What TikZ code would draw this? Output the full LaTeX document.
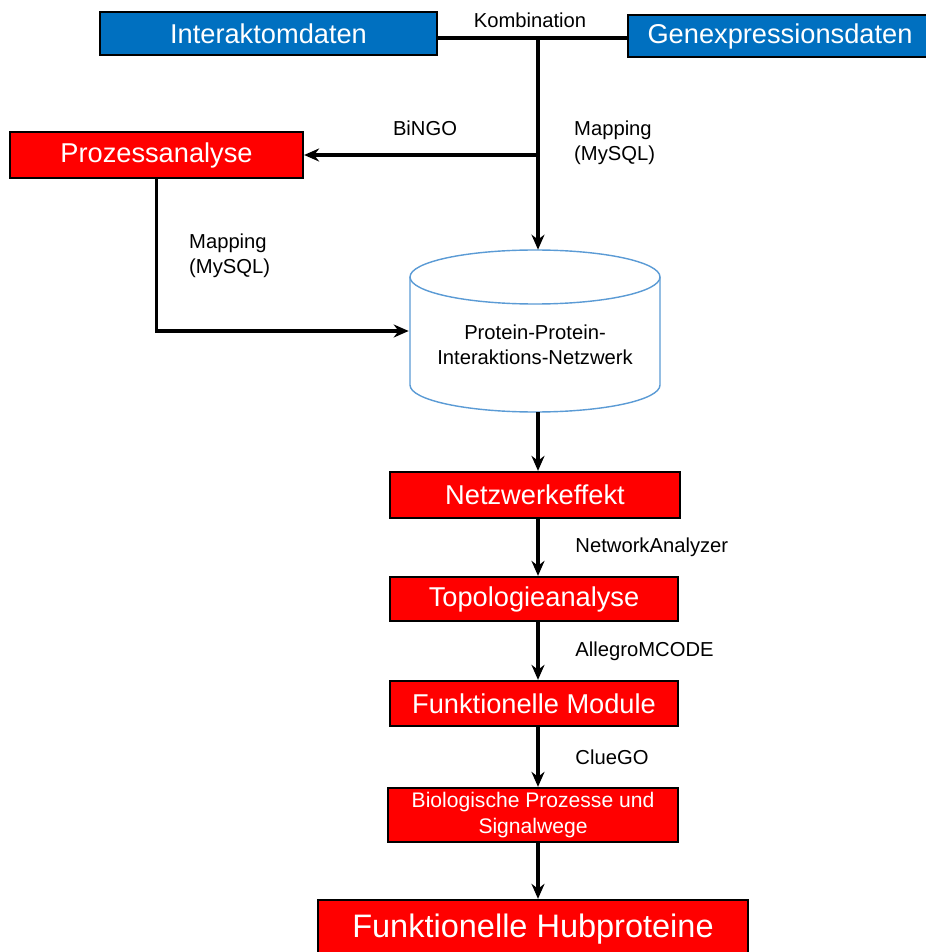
\documentclass[tikz,border=0pt]{standalone}
\usepackage{fontspec}
\setmainfont{Liberation Sans}
\usetikzlibrary{calc, arrows.meta, positioning}
\definecolor{boxblue}{RGB}{0,112,192}
\definecolor{boxred}{RGB}{255,0,0}
\definecolor{dbline}{RGB}{91,155,213}

\begin{document}
\begin{tikzpicture}[
    x=0.02cm, y=-0.02cm,
    data node/.style={rectangle, draw=black, line width=1.3pt, fill=boxblue, text=white, inner sep=0pt, font=\fontsize{15.5}{18}\selectfont},
    step node/.style={rectangle, draw=black, line width=1.3pt, fill=boxred, text=white, inner sep=0pt, minimum width=5.8cm, minimum height=0.9cm, font=\fontsize{15.5}{18}\selectfont},
    arrow/.style={-{Stealth[length=3mm, width=2.6mm]}, black, line width=2pt},
    link/.style={black, line width=2pt},
    label node/.style={font=\fontsize{11.5}{14}\selectfont, align=left}
]
\useasboundingbox (0,0) rectangle (925,952);

% Input data
\node[data node, minimum width=6.74cm, minimum height=0.86cm] (inter) at (268.5,33.5) {Interaktomdaten};
\node[data node, minimum width=6.08cm, minimum height=0.84cm] (genex) at (780,36) {Genexpressionsdaten};
\coordinate (comb) at (538,38);
\coordinate (branch) at (538,155);

% Process analysis
\node[step node, minimum width=5.86cm, minimum height=0.92cm] (proz) at (156.5,155) {Prozessanalyse};

% Network (cylinder)
\node[minimum width=5.04cm, minimum height=3.24cm, inner sep=0pt] (ppi) at (535,331) {};
\draw[dbline, line width=0.8pt, fill=white]
    (410,277) -- (410,385) arc[start angle=180, end angle=360, x radius=125, y radius=-27] -- (660,277);
\draw[dbline, line width=0.8pt, fill=white] (535,277) ellipse[x radius=125, y radius=-27];
\node[font=\fontsize{11.5}{14}\selectfont, align=center] at (535,345) {Protein-Protein-\\Interaktions-Netzwerk};

% Analysis steps
\node[step node, minimum width=5.8cm, minimum height=0.92cm] (netz) at (535,495) {Netzwerkeffekt};
\node[step node, minimum width=5.76cm, minimum height=0.88cm] (topo) at (534,599) {Topologieanalyse};
\node[step node, minimum width=5.76cm, minimum height=0.9cm] (modul) at (534,703.5) {Funktionelle Module};
\node[step node, minimum width=5.8cm, minimum height=1.08cm, align=center, font=\fontsize{12}{14.5}\selectfont] (bio) at (533,815) {Biologische Prozesse und\\Signalwege};
\node[step node, minimum width=8.6cm, minimum height=1.16cm, font=\fontsize{18.5}{22}\selectfont] (hub) at (533,929) {Funktionelle Hubproteine};

% Combination of data
\draw[link] (inter.east |- comb) -- (genex.west |- comb);
\node[label node] at (530,20) {Kombination};
\draw[arrow] (comb) -- (ppi.north -| comb);
\draw[arrow] (branch) -- (proz.east);
\node[label node] at (425,128) {BiNGO};
\node[label node, anchor=west] at (568,143) {Mapping\\(MySQL)};
\draw[arrow] (proz.south) |- (ppi.west);
\node[label node, anchor=west] at (183,256) {Mapping\\(MySQL)};

% Vertical arrows
\draw[arrow] (ppi.south -| comb) -- (netz.north -| comb);
\draw[arrow] (netz.south -| comb) -- node[label node, right=17pt] {NetworkAnalyzer} (topo.north -| comb);
\draw[arrow] (topo.south -| comb) -- node[label node, right=17pt] {AllegroMCODE} (modul.north -| comb);
\draw[arrow] (modul.south -| comb) -- node[label node, right=17pt] {ClueGO} (bio.north -| comb);
\draw[arrow] (bio.south -| comb) -- (hub.north -| comb);
\end{tikzpicture}
\end{document}
